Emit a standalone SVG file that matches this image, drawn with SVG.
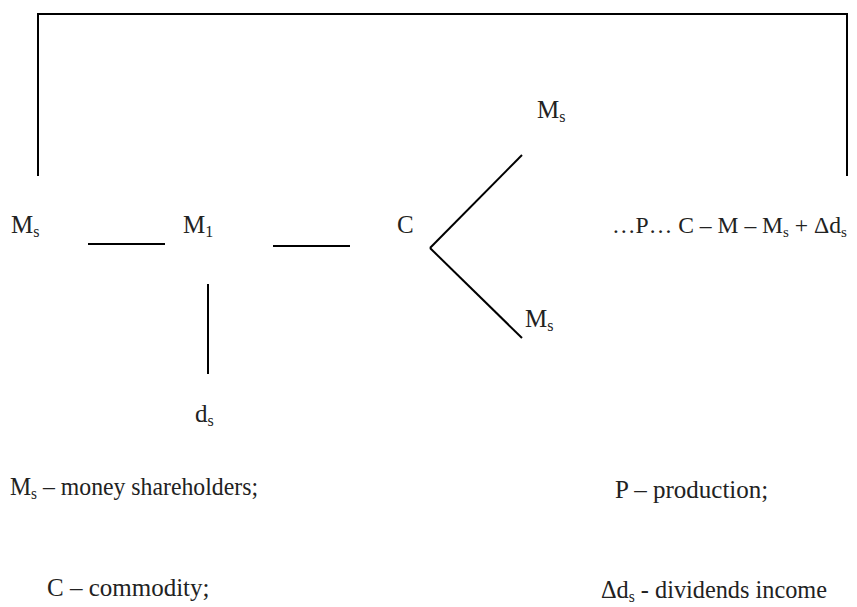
<svg xmlns="http://www.w3.org/2000/svg" width="857" height="607" viewBox="0 0 857 607">
<style>
text{font-family:"Liberation Serif","Times New Roman",serif;font-size:25px;fill:#222}
.sub{font-size:16px}
.chain{font-size:23.6px}
.chain .sub{font-size:15px}
line,polyline{stroke:#000;stroke-width:2;fill:none}
</style>
<rect width="857" height="607" fill="#fff"/>
<g id="connectors">
<polyline points="38,176 38,14 847,14 847,176"/>
<line x1="88" y1="244" x2="165" y2="244"/>
<line x1="273" y1="246" x2="350" y2="246"/>
<line x1="208" y1="284" x2="208" y2="374"/>
<line x1="430" y1="248" x2="522" y2="155"/>
<line x1="430" y1="248" x2="522" y2="338"/>
</g>
<g id="node-ms"><text x="11" y="233">M<tspan class="sub" dy="4">s</tspan></text></g>
<g id="node-m1"><text x="183" y="233">M<tspan class="sub" dy="4">1</tspan></text></g>
<g id="node-c"><text x="397" y="233">C</text></g>
<g id="node-ms-top"><text x="537" y="118">M<tspan class="sub" dy="4">s</tspan></text></g>
<g id="node-ms-bottom"><text x="525" y="327">M<tspan class="sub" dy="4">s</tspan></text></g>
<g id="node-ds"><text x="195" y="422">d<tspan class="sub" dy="4">s</tspan></text></g>
<g id="node-chain"><text class="chain" x="612" y="233">…P… C – M – M<tspan class="sub" dy="4">s</tspan><tspan dy="-4"> + Δd</tspan><tspan class="sub" dy="4">s</tspan></text></g>
<g id="legend">
<text x="10" y="495" textLength="248" lengthAdjust="spacingAndGlyphs">M<tspan class="sub" dy="4">s</tspan><tspan dy="-4"> – money shareholders;</tspan></text>
<text x="615" y="498">P – production;</text>
<text x="47" y="596">C – commodity;</text>
<text x="601" y="598" textLength="226" lengthAdjust="spacingAndGlyphs">Δd<tspan class="sub" dy="4">s</tspan><tspan dy="-4"> - dividends income</tspan></text>
</g>
</svg>
